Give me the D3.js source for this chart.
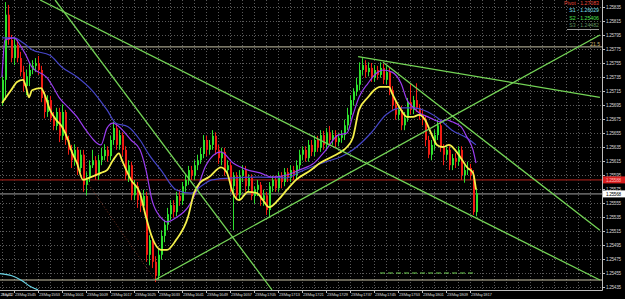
<!DOCTYPE html>
<html>
<head>
<meta charset="utf-8">
<script src="https://cdn.jsdelivr.net/npm/d3@7"></script>
<style>
  html, body { margin: 0; padding: 0; background: #000; overflow: hidden; }
  svg { display: block; }
</style>
</head>
<body>
<div id="chart"></div>
<script>
// EURUSD M1, 23 May 2012 15:41 - 18:19 (one candle a minute)
var open = [1.25698,1.25731,1.25824,1.25788,1.25762,1.25781,1.25762,1.25742,1.25722,1.25736,
  1.25745,1.25751,1.25755,1.25745,1.25705,1.25685,1.25702,1.25676,1.25665,1.25685,
  1.25651,1.25685,1.25645,1.25631,1.25616,1.25631,1.25605,1.25624,1.25581,1.25591,
  1.25609,1.25616,1.25595,1.25616,1.25622,1.25631,1.25622,1.25645,1.25662,1.25638,
  1.25652,1.25631,1.25595,1.25609,1.25566,1.25579,1.25559,1.25551,1.25565,1.25481,
  1.25502,1.25471,1.25451,1.25481,1.25508,1.25524,1.25539,1.25552,1.25542,1.25565,
  1.25558,1.25579,1.25588,1.25602,1.25594,1.25609,1.25616,1.25625,1.25645,1.25631,
  1.25638,1.25651,1.25631,1.25619,1.25628,1.25602,1.25609,1.25579,1.25594,1.25566,
  1.25594,1.25602,1.25579,1.25591,1.25565,1.25574,1.25581,1.25559,1.25566,1.25545,
  1.25579,1.25588,1.25576,1.25594,1.25585,1.25599,1.25591,1.25602,1.25595,1.25609,
  1.25624,1.25631,1.25619,1.25638,1.25628,1.25645,1.25634,1.25652,1.25638,1.25656,
  1.25645,1.25652,1.25642,1.25648,1.25652,1.25666,1.25681,1.25702,1.25714,1.25724,
  1.25745,1.25752,1.25742,1.25748,1.25734,1.25745,1.25738,1.25748,1.25731,1.25742,
  1.25716,1.25695,1.25681,1.25688,1.25666,1.25676,1.25699,1.25688,1.25702,1.25691,
  1.25681,1.25674,1.25645,1.25624,1.25638,1.25652,1.25666,1.25634,1.25624,1.25631,
  1.25609,1.25619,1.25614,1.25631,1.25595,1.25602,1.25605,1.25595,1.25542];
var high = [1.25738,1.25842,1.25838,1.25795,1.25791,1.25788,1.25771,1.25751,1.25745,1.25756,
  1.25759,1.25762,1.25765,1.25751,1.25714,1.25709,1.25708,1.25685,1.25691,1.25691,
  1.25696,1.25688,1.25651,1.25638,1.25639,1.25635,1.25631,1.25631,1.25599,1.25616,
  1.25631,1.25622,1.25624,1.25634,1.25639,1.25636,1.25651,1.25671,1.25668,1.25659,
  1.25656,1.25636,1.25616,1.25614,1.25588,1.25585,1.25568,1.25574,1.25571,1.25509,
  1.25508,1.25479,1.25488,1.25516,1.25531,1.25548,1.25559,1.25559,1.25571,1.25574,
  1.25585,1.25595,1.25608,1.25608,1.25616,1.25624,1.25634,1.25652,1.25651,1.25645,
  1.25659,1.25656,1.25638,1.25634,1.25634,1.25616,1.25614,1.25599,1.25599,1.25602,
  1.25609,1.25608,1.25596,1.25596,1.25579,1.25588,1.25585,1.25574,1.25571,1.25585,
  1.25594,1.25594,1.25599,1.25599,1.25605,1.25605,1.25609,1.25608,1.25616,1.25631,
  1.25636,1.25636,1.25645,1.25645,1.25651,1.25651,1.25659,1.25658,1.25662,1.25665,
  1.25659,1.25659,1.25655,1.25659,1.25674,1.25691,1.25709,1.25719,1.25734,1.25756,
  1.25762,1.25759,1.25756,1.25755,1.25752,1.25751,1.25756,1.25754,1.25751,1.25748,
  1.25722,1.25702,1.25694,1.25694,1.25685,1.25705,1.25725,1.25708,1.25726,1.25696,
  1.25688,1.25679,1.25651,1.25645,1.25659,1.25674,1.25674,1.25639,1.25636,1.25636,
  1.25625,1.25626,1.25636,1.25636,1.25609,1.25614,1.25611,1.25602,1.25576];
var low = [1.25694,1.25702,1.25781,1.25756,1.25752,1.25756,1.25736,1.25714,1.25709,1.25722,
  1.25739,1.25742,1.25738,1.25699,1.25676,1.25678,1.25671,1.25659,1.25659,1.25642,
  1.25645,1.25638,1.25624,1.25605,1.25608,1.25595,1.25599,1.25571,1.25566,1.25585,
  1.25605,1.25588,1.25588,1.25609,1.25616,1.25614,1.25616,1.25638,1.25631,1.25631,
  1.25622,1.25588,1.25585,1.25559,1.25559,1.25548,1.25542,1.25545,1.25471,1.25466,
  1.25462,1.25442,1.25445,1.25474,1.25499,1.25516,1.25531,1.25534,1.25536,1.25551,
  1.25552,1.25571,1.25581,1.25588,1.25588,1.25602,1.25611,1.25619,1.25622,1.25624,
  1.25631,1.25624,1.25611,1.25609,1.25594,1.25594,1.25571,1.25516,1.25559,1.25559,
  1.25585,1.25571,1.25571,1.25559,1.25554,1.25565,1.25551,1.25551,1.25538,1.25534,
  1.25571,1.25571,1.25571,1.25576,1.25579,1.25585,1.25585,1.25588,1.25588,1.25602,
  1.25616,1.25614,1.25614,1.25622,1.25622,1.25628,1.25628,1.25631,1.25631,1.25638,
  1.25638,1.25635,1.25636,1.25641,1.25645,1.25659,1.25674,1.25694,1.25708,1.25716,
  1.25738,1.25734,1.25736,1.25728,1.25728,1.25731,1.25734,1.25725,1.25725,1.25709,
  1.25688,1.25674,1.25674,1.25659,1.25659,1.25671,1.25682,1.25682,1.25685,1.25674,
  1.25666,1.25636,1.25619,1.25616,1.25631,1.25645,1.25628,1.25609,1.25616,1.25602,
  1.25602,1.25605,1.25608,1.25588,1.25584,1.25595,1.25588,1.25538,1.25536];
var close = [1.25731,1.25824,1.25788,1.25762,1.25781,1.25762,1.25742,1.25722,1.25736,1.25745,
  1.25751,1.25755,1.25745,1.25705,1.25685,1.25702,1.25676,1.25665,1.25685,1.25651,
  1.25685,1.25645,1.25631,1.25616,1.25631,1.25605,1.25624,1.25581,1.25591,1.25609,
  1.25616,1.25595,1.25616,1.25622,1.25631,1.25622,1.25645,1.25662,1.25638,1.25652,
  1.25631,1.25595,1.25609,1.25566,1.25579,1.25559,1.25551,1.25565,1.25481,1.25502,
  1.25471,1.25451,1.25481,1.25508,1.25524,1.25539,1.25552,1.25542,1.25565,1.25558,
  1.25579,1.25588,1.25602,1.25594,1.25609,1.25616,1.25625,1.25645,1.25631,1.25638,
  1.25651,1.25631,1.25619,1.25628,1.25602,1.25609,1.25579,1.25594,1.25566,1.25594,
  1.25602,1.25579,1.25591,1.25565,1.25574,1.25581,1.25559,1.25566,1.25545,1.25579,
  1.25588,1.25576,1.25594,1.25585,1.25599,1.25591,1.25602,1.25595,1.25609,1.25624,
  1.25631,1.25619,1.25638,1.25628,1.25645,1.25634,1.25652,1.25638,1.25656,1.25645,
  1.25652,1.25642,1.25648,1.25652,1.25666,1.25681,1.25702,1.25714,1.25724,1.25745,
  1.25752,1.25742,1.25748,1.25734,1.25745,1.25738,1.25748,1.25731,1.25742,1.25716,
  1.25695,1.25681,1.25688,1.25666,1.25676,1.25699,1.25688,1.25702,1.25691,1.25681,
  1.25674,1.25645,1.25624,1.25638,1.25652,1.25666,1.25634,1.25624,1.25631,1.25609,
  1.25619,1.25614,1.25631,1.25595,1.25602,1.25605,1.25595,1.25542,1.25569];

// moving averages, read at some bars
var maFastBar = [0,3,5,7,8,9,10,13,14,16,18,20,22,23,25,27,29,33,35,37,39,40,43,46,48,50,53,55,58,62,64,66,69,73,75,77,79,82,85,87,89,92,95,98,103,106,110,114,115,117,119,122,124,126,129,130,133,135,137,139,141,143,145,147,149,151,153,155,157,158];
var maFast = [1.25698,1.25716,1.25728,1.25731,1.25721,1.25706,1.25716,1.25719,1.25712,1.25688,1.25674,1.25664,1.25645,1.25631,1.25612,1.25588,1.25591,1.25598,1.25602,1.25616,1.25626,1.25616,1.25588,1.25569,1.25535,1.25506,1.25488,1.25488,1.25502,1.25535,1.25569,1.25584,1.25592,1.25606,1.25598,1.25569,1.25559,1.25571,1.25569,1.25559,1.25549,1.25559,1.25574,1.25588,1.25602,1.25612,1.25621,1.25631,1.25635,1.25649,1.25688,1.25706,1.25716,1.25721,1.25721,1.25712,1.25688,1.25678,1.25678,1.25681,1.25674,1.25655,1.25638,1.25635,1.25638,1.25631,1.25619,1.25606,1.25598,1.25574];
var maMidBar = [0,1,4,6,8,10,15,17,19,22,25,28,33,35,37,39,43,46,48,50,53,55,58,62,65,68,73,77,82,86,90,95,99,104,108,112,115,117,119,122,125,127,130,133,135,137,139,142,144,146,148,150,153,155,157,158];
var maMid = [1.25735,1.25788,1.25791,1.25781,1.25766,1.25749,1.25734,1.25721,1.25706,1.25692,1.25678,1.25659,1.25638,1.25662,1.25669,1.25664,1.25645,1.25631,1.25602,1.25559,1.25534,1.25528,1.25534,1.25549,1.25574,1.25609,1.25628,1.25612,1.25602,1.25598,1.25592,1.25595,1.25602,1.25612,1.25631,1.25652,1.25655,1.25681,1.25706,1.25726,1.25741,1.25745,1.25742,1.25726,1.25702,1.25692,1.25684,1.25678,1.25674,1.25671,1.25674,1.25671,1.25664,1.25649,1.25631,1.25612];
var maSlowBar = [0,4,7,10,16,20,25,30,35,38,42,46,49,53,58,63,66,70,77,86,95,99,108,113,117,123,128,133,137,142,146,150,155,158];
var maSlow = [1.25791,1.25791,1.25784,1.25774,1.25766,1.25749,1.25735,1.25716,1.25688,1.25669,1.25664,1.25645,1.25624,1.25602,1.25574,1.25569,1.25578,1.25588,1.25591,1.25592,1.25591,1.25599,1.25614,1.25621,1.25631,1.25655,1.25681,1.25691,1.25691,1.25685,1.25674,1.25659,1.25648,1.25638];
// indicator line in the lower left corner
var cyanBar = [-0.7,3.3,6.7,9.3,12];
var cyanVal = [1.25454,1.25451,1.25444,1.25436,1.25431];

// trend lines [bar1, price1, bar2, price2]
var trendLines = [
  [12.7, 1.25845, 199.3, 1.25445],
  [17.7, 1.25845, 90, 1.25431],
  [51, 1.25445, 199.3, 1.25795],
  [118.7, 1.25764, 199.3, 1.25706],
  [127, 1.25756, 199.3, 1.25516]
];
var dottedLine = [28.3, 1.25585, 51, 1.25445];
var dashedLevel = [126, 158, 1.25455];

// horizontal levels
var levelUpper = 1.25778, levelLower = 1.25445;
var askPrice = 1.25588, bidPrice = 1.25568;
var askLabel = "1.25588", bidLabel = "1.25568";
var levelText = "21.5";

var priceTicks = [1.25835,1.25815,1.25795,1.25775,1.25755,1.25735,1.25715,1.25695,1.25675,1.25655,
  1.25635,1.25615,1.25595,1.25575,1.25555,1.25535,1.25515,1.25495,1.25475,1.25455,1.25435];
var timeBars = [-4,4,12,20,28,36,44,52,60,68,76,84,92,100,108,116,124,132,140,148,156];
var timeLabels = ["23 May 2012","23 May 15:45","23 May 15:53","23 May 16:01","23 May 16:09","23 May 16:17",
  "23 May 16:25","23 May 16:33","23 May 16:41","23 May 16:49","23 May 16:57","23 May 17:05",
  "23 May 17:13","23 May 17:21","23 May 17:29","23 May 17:37","23 May 17:45","23 May 17:53",
  "23 May 18:01","23 May 18:09","23 May 18:17"];
var pivotNames = ["Pivot - 1.27083","S1 - 1.26029","S2 - 1.25406","S3 - 1.24482"];
var pivotColors = ["#e8483a","#7fe0f0","#4fe04f","#5f8f5f"];

// wymiary
var W = 625, H = 299, plotW = 602, plotH = 290;

var svg = d3.select("#chart").append("svg")
  .attr("width", W).attr("height", H)
  .style("background", "#000");

var x = d3.scaleLinear().domain([0, 199]).range([2, 599]);
var y = d3.scaleLinear().domain([1.25835, 1.25435]).range([7, 287]);

svg.append("defs").append("clipPath").attr("id", "plot")
  .append("rect").attr("width", plotW).attr("height", plotH);

var plot = svg.append("g").attr("clip-path", "url(#plot)");

// siatka
plot.append("g").selectAll("line").data(priceTicks).enter().append("line")
  .attr("x1", 0).attr("x2", plotW)
  .attr("y1", function (d) { return Math.round(y(d)) + 0.5; })
  .attr("y2", function (d) { return Math.round(y(d)) + 0.5; })
  .attr("stroke", "#5a5a5a").attr("stroke-dasharray", "1,2");
plot.append("g").selectAll("line").data(d3.range(0, 200, 4)).enter().append("line")
  .attr("x1", function (d) { return Math.round(x(d)) + 0.5; })
  .attr("x2", function (d) { return Math.round(x(d)) + 0.5; })
  .attr("y1", 0).attr("y2", plotH)
  .attr("stroke", "#5a5a5a").attr("stroke-dasharray", "1,2");

// poziomy
function hline(p, color, w) {
  plot.append("line").attr("x1", 0).attr("x2", plotW)
    .attr("y1", y(p)).attr("y2", y(p))
    .attr("stroke", color).attr("stroke-width", w);
}
hline(levelUpper, "#c9c4a8", 1);
hline(levelLower, "#c9c4a8", 1);
hline(askPrice, "#6a1410", 1.6);
hline(bidPrice, "#5e5e5e", 1.6);

plot.append("text").attr("x", 600).attr("y", y(levelUpper) - 1)
  .attr("text-anchor", "end").attr("font-family", "Liberation Sans, Arial")
  .attr("font-size", 5).attr("fill", "#c8b870").text(levelText);

// linia kropkowana
plot.append("line")
  .attr("x1", x(dottedLine[0])).attr("y1", y(dottedLine[1]))
  .attr("x2", x(dottedLine[2])).attr("y2", y(dottedLine[3]))
  .attr("stroke", "#7a3424").attr("stroke-dasharray", "1,2");

// linia przerywana
plot.append("line")
  .attr("x1", x(dashedLevel[0])).attr("x2", x(dashedLevel[1]))
  .attr("y1", y(dashedLevel[2])).attr("y2", y(dashedLevel[2]))
  .attr("stroke", "#6fcf52").attr("stroke-dasharray", "5,3");

// świece
var bars = d3.range(close.length);
plot.append("g").selectAll("line").data(bars).enter().append("line")
  .attr("x1", function (i) { return Math.round(x(i)) + 0.5; })
  .attr("x2", function (i) { return Math.round(x(i)) + 0.5; })
  .attr("y1", function (i) { return y(high[i]); })
  .attr("y2", function (i) { return y(low[i]); })
  .attr("stroke", function (i) { return close[i] >= open[i] ? "#2ee02e" : "#f01c14"; })
  .attr("stroke-width", 1);
plot.append("g").selectAll("rect").data(bars).enter().append("rect")
  .attr("x", function (i) { return Math.round(x(i)); })
  .attr("width", 2)
  .attr("y", function (i) { return y(Math.max(open[i], close[i])); })
  .attr("height", function (i) { return Math.max(1, Math.abs(y(open[i]) - y(close[i]))); })
  .attr("fill", function (i) { return close[i] >= open[i] ? "#2ee02e" : "#f01c14"; });

// średnie
function maLine(bs, vals, color, w) {
  var line = d3.line()
    .x(function (d, k) { return x(bs[k]); })
    .y(function (d) { return y(d); })
    .curve(d3.curveMonotoneX);
  plot.append("path").datum(vals).attr("d", line)
    .attr("fill", "none").attr("stroke", color).attr("stroke-width", w);
}
maLine(maSlowBar, maSlow, "#4646c8", 1.2);
maLine(maMidBar, maMid, "#9a3cf0", 1.2);
maLine(maFastBar, maFast, "#f4f04a", 1.8);
maLine(cyanBar, cyanVal, "#6ad4e6", 1.2);

// linie trendu
plot.append("g").selectAll("line").data(trendLines).enter().append("line")
  .attr("x1", function (d) { return x(d[0]); }).attr("y1", function (d) { return y(d[1]); })
  .attr("x2", function (d) { return x(d[2]); }).attr("y2", function (d) { return y(d[3]); })
  .attr("stroke", "#74d456").attr("stroke-width", 1.3);

// legenda pivot
plot.append("g").selectAll("text").data(pivotNames).enter().append("text")
  .attr("x", 599).attr("y", function (d, k) { return 5 + k * 7.3; })
  .attr("text-anchor", "end")
  .attr("font-family", "Liberation Sans, Arial").attr("font-size", 5.2)
  .attr("fill", function (d, k) { return pivotColors[k]; })
  .text(function (d) { return d; });
plot.append("line").attr("x1", 567).attr("x2", 599).attr("y1", 29.5).attr("y2", 29.5)
  .attr("stroke", "#9a9a9a");

// ramka
svg.append("line").attr("x1", plotW + 0.5).attr("x2", plotW + 0.5).attr("y1", 0).attr("y2", plotH + 0.5)
  .attr("stroke", "#bdbdbd");
svg.append("line").attr("x1", 0).attr("x2", plotW + 0.5).attr("y1", plotH + 0.5).attr("y2", plotH + 0.5)
  .attr("stroke", "#bdbdbd");

// oś cen
var yAxis = svg.append("g");
yAxis.selectAll("line").data(priceTicks).enter().append("line")
  .attr("x1", plotW).attr("x2", plotW + 3)
  .attr("y1", function (d) { return Math.round(y(d)) + 0.5; })
  .attr("y2", function (d) { return Math.round(y(d)) + 0.5; })
  .attr("stroke", "#bdbdbd");
yAxis.selectAll("text").data(priceTicks).enter().append("text")
  .attr("x", plotW + 4).attr("y", function (d) { return y(d) + 1.6; })
  .attr("font-family", "Liberation Sans, Arial").attr("font-size", 4.6)
  .attr("textLength", 15).attr("fill", "#d0d0d0")
  .text(function (d) { return d.toFixed(5); });

function priceBox(p, label, bg, fg) {
  svg.append("rect").attr("x", plotW + 1).attr("y", y(p) - 3.5).attr("width", 22).attr("height", 7)
    .attr("fill", bg);
  svg.append("text").attr("x", plotW + 4).attr("y", y(p) + 1.6)
    .attr("font-family", "Liberation Sans, Arial").attr("font-size", 4.6)
    .attr("textLength", 15).attr("fill", fg).text(label);
}
priceBox(askPrice, askLabel, "#d81e1e", "#ffb0b0");
priceBox(bidPrice, bidLabel, "#ffffff", "#000000");

// oś czasu (pierwsza etykieta z datą przy samej krawędzi)
var xAxis = svg.append("g");
xAxis.selectAll("line").data(timeBars).enter().append("line")
  .attr("x1", function (d) { return Math.round(x(d)) + 0.5; })
  .attr("x2", function (d) { return Math.round(x(d)) + 0.5; })
  .attr("y1", plotH).attr("y2", plotH + 3)
  .attr("stroke", "#bdbdbd");
xAxis.selectAll("text").data(timeLabels).enter().append("text")
  .attr("x", function (d, k) { return k === 0 ? 0.5 : x(timeBars[k]) + 1; })
  .attr("y", 296)
  .attr("font-family", "Liberation Sans, Arial").attr("font-size", 4.4)
  .attr("textLength", function (d, k) { return k === 0 ? 13 : 21; })
  .attr("fill", "#d0d0d0")
  .text(function (d) { return d; });
</script>
</body>
</html>
